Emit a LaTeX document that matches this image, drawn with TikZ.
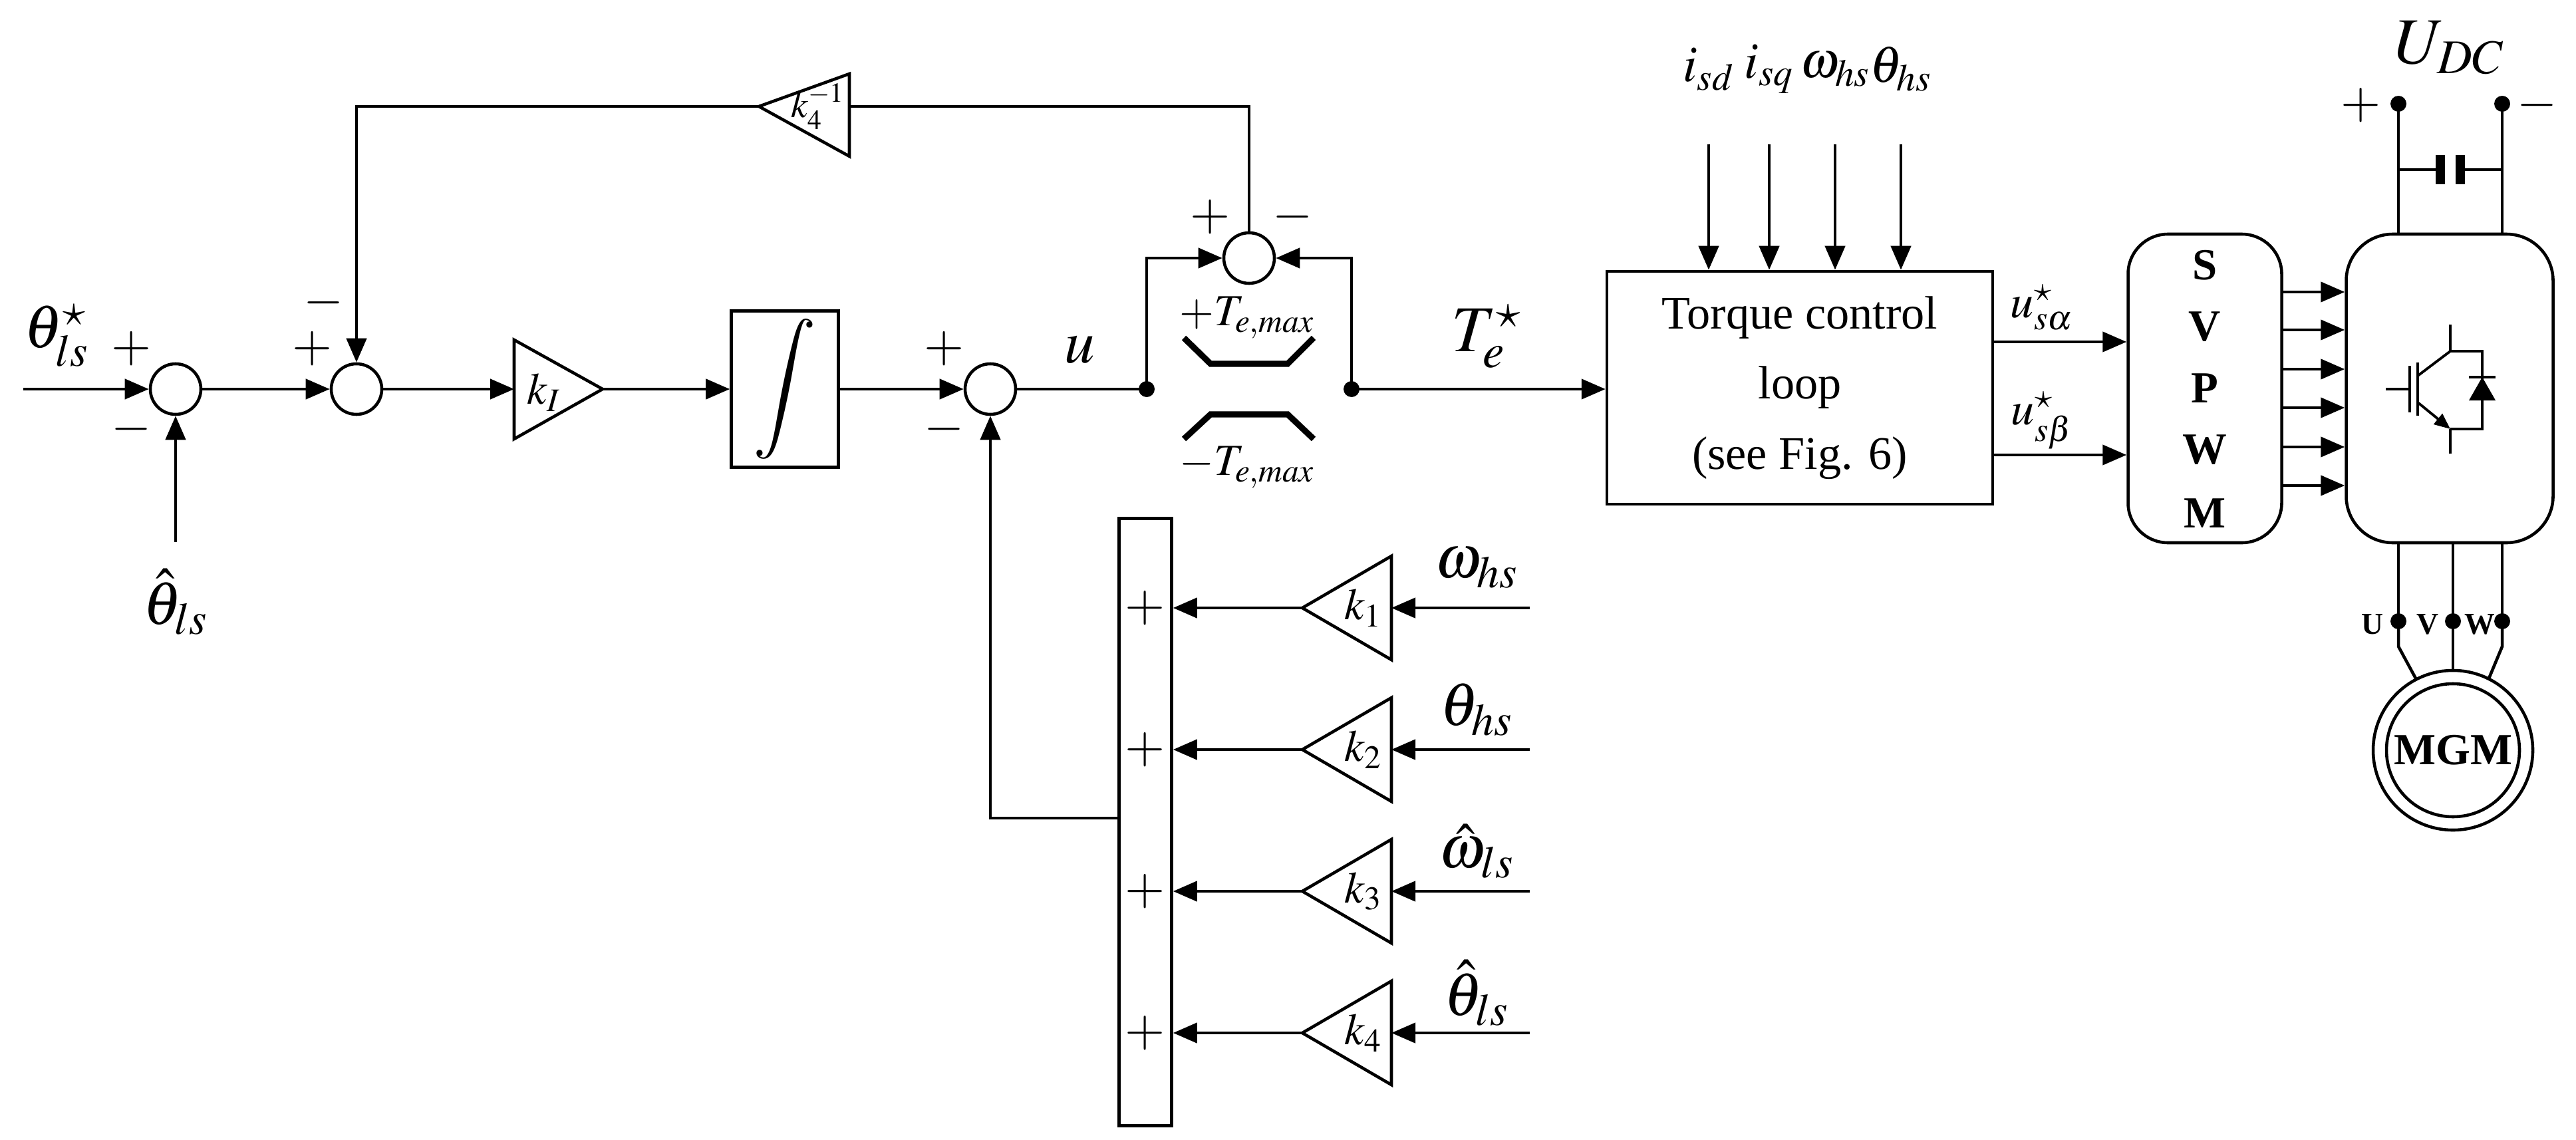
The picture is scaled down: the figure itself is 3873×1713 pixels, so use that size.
\documentclass[tikz,border=0pt]{standalone}
\usepackage{mathptmx}
\usepackage{fontspec}
\setmainfont{Liberation Serif}
\usetikzlibrary{arrows.meta,calc}
\begin{document}
\begin{tikzpicture}[x=0.1mm,y=-0.1mm,line width=1.3pt,
  arr/.style={-{Triangle[length=3.6mm,width=3mm]}},
  sum/.style={circle,draw,minimum size=7.6mm,inner sep=0pt},
  lbl/.style={font=\fontsize{26}{30}\selectfont,inner sep=0pt},
  sgn/.style={font=\fontsize{22}{26}\selectfont,inner sep=0pt},
  gtxt/.style={font=\fontsize{19}{22}\selectfont,inner sep=0pt},
  dot/.style={circle,fill,inner sep=0pt,minimum size=2.4mm},
  blk/.style={font=\bfseries\fontsize{19}{22}\selectfont,inner sep=0pt}]
\useasboundingbox (0,0) rectangle (3873,1713);
% left part
\coordinate (in) at (35,585);
\node[sum] (s1) at (264,585) {};
\node[sum] (s2) at (536,585) {};
\node[sum] (s3) at (1489,585) {};
\node[lbl] at (85,505) {$\theta_{ls}^{\star}$};
\draw[arr] (in) -- (s1);
\coordinate (th) at (264,815);
\draw[arr] (th) -- (s1);
\node[lbl] (thl) at (264,905) {$\hat{\theta}_{ls}$};
\node[sgn] at (198,524) {$+$};
\node[sgn] at (198,645) {$-$};
\node[sgn] at (470,524) {$+$};
\node[sgn] at (487,455) {$-$};
\node[sgn] at (1420,524) {$+$};
\node[sgn] at (1420,645) {$-$};
\draw[arr] (s1) -- (s2);
% kI
\coordinate (kIl) at (773,585);
\draw (773,511) -- (906,585) -- (773,660) -- cycle;
\node[gtxt] (kI) at (818,590) {$k_I$};
\coordinate (kIr) at (906,585);
\draw[arr] (s2) -- (kIl);
\node[draw,minimum width=16.1mm,minimum height=23.5mm,inner sep=0pt,
  font=\fontsize{30}{34}\selectfont] (int) at (1180,585) {$\displaystyle\int$};
\draw[arr] (kIr) -- (int);
\draw[arr] (int) -- (s3);
\node[lbl] at (1623,526) {$u$};
% saturation
\coordinate (jl) at (1724,585);
\coordinate (jr) at (2032,585);
\node[dot] at (jl) {}; \node[dot] at (jr) {};
\node[sum] (sc) at (1878,388) {};
\draw (s3) -- (jl);
\draw[arr] (jl) |- (sc);
\draw[arr] (jr) |- (sc);
\node[sgn] at (1820,326) {$+$};
\node[sgn] at (1944,326) {$-$};
\draw[line width=2.6pt] (1780,508) -- (1820,547) -- (1936,547) -- (1975,508);
\draw[line width=2.6pt] (1780,660) -- (1820,623) -- (1936,623) -- (1975,660);
\node[gtxt] at (1875,478) {$+T_{e,max}$};
\node[gtxt] at (1875,703) {$-T_{e,max}$};
% feedback k4^-1
\draw (1277,111) -- (1141,160) -- (1277,235) -- cycle;
\node[gtxt,font=\fontsize{16}{18}\selectfont] (k4i) at (1230,160) {$k_4^{-1}$};
\coordinate (k4r) at (1277,160);
\coordinate (k4l) at (1141,160);
\draw (sc) |- (k4r);
\draw[arr] (k4l) -| (s2);
% Te*
\node[draw,align=center,minimum width=58mm,minimum height=35mm,inner sep=0pt,
  font=\fontsize{20}{30}\selectfont] (tc) at (2706,583) {Torque control\\loop\\(see Fig. 6)};
\draw[arr] (jr) -- (tc.west|-jr);
\node[lbl,font=\fontsize{28}{32}\selectfont] at (2235,506) {$T_e^{\star}$};
\foreach \x/\t/\n in {2569/i_{sd}/a,2660/i_{sq}/b,2759/\omega_{hs}/c,2858/\theta_{hs}/d}{
  \coordinate (ti\n) at (\x,217);
  \node[gtxt,font=\fontsize{22}{24}\selectfont] at (\x,104) {$\t$};
  \draw[arr] (ti\n) -- (tc.north-|ti\n);
}
% SVPWM
\node[draw,rounded corners=6mm,minimum width=23.1mm,minimum height=46.4mm,inner sep=0pt] (sv) at (3315,584) {};
\foreach \y/\c in {399/S,491/V,584/P,676/W,772/M}{\node[blk] at (3315,\y) {\c};}
\draw[arr] (tc.east|-0,514) -- (sv.west|-0,514);
\draw[arr] (tc.east|-0,684) -- (sv.west|-0,684);
\node[gtxt,font=\fontsize{20}{22}\selectfont] at (3070,462) {$u_{s\alpha}^{\star}$};
\node[gtxt,font=\fontsize{20}{22}\selectfont] at (3070,632) {$u_{s\beta}^{\star}$};
% inverter
\node[draw,rounded corners=7mm,minimum width=31.1mm,minimum height=46.4mm,inner sep=0pt] (inv) at (3683,584) {};
\foreach \y in {439,496,555,613,672,730}{\draw[arr] (sv.east|-0,\y) -- (inv.west|-0,\y);}
% IGBT
\begin{scope}[line width=1.1pt]
\draw (3587,585) -- (3623,585);
\draw (3623,550) -- (3623,620);
\draw (3635,545) -- (3635,625);
\draw (3635,565) -- (3684,528) -- (3732,528) -- (3732,645) -- (3684,645);
\draw (3684,488) -- (3684,528);
\draw (3684,645) -- (3684,682);
\draw[-{Triangle[length=2.4mm,width=2mm]}] (3635,605) -- (3684,645);
\fill (3712,602) -- (3752,602) -- (3732,567) -- cycle;
\draw (3712,567) -- (3752,567);
\end{scope}
% DC link
\coordinate (dp) at (3606,156);
\coordinate (dm) at (3762,156);
\node[dot] at (dp) {}; \node[dot] at (dm) {};
\draw (dp) -- (dp|-inv.north);
\draw (dm) -- (dm|-inv.north);
\draw (3606,255) -- (3662,255);
\draw (3706,255) -- (3762,255);
\fill (3662,233) rectangle (3676,277);
\fill (3692,233) rectangle (3706,277);
\node[sgn] at (3549,158) {$+$};
\node[sgn] at (3814,158) {$-$};
\node[lbl,font=\fontsize{28}{30}\selectfont] at (3683,72) {$U_{DC}$};
% motor
\node[circle,draw,minimum size=24mm,inner sep=0pt] (mo) at (3688,1128) {};
\node[circle,draw,minimum size=20mm,inner sep=0pt,blk] (mi) at (3688,1128) {MGM};
\coordinate (pu) at (3606,934); \coordinate (pv) at (3688,934); \coordinate (pw) at (3762,934);
\foreach \p in {pu,pv,pw}{\node[dot] at (\p) {}; \draw (\p|-inv.south) -- (\p);}
\draw (pu) -- (3606,972) -- (3632,1020);
\draw (pv) -- (3688,1008);
\draw (pw) -- (3762,972) -- (3742,1020);
\node[blk,font=\bfseries\fontsize{13}{15}\selectfont] at (3567,939) {U};
\node[blk,font=\bfseries\fontsize{13}{15}\selectfont] at (3650,939) {V};
\node[blk,font=\bfseries\fontsize{13}{15}\selectfont] at (3728,939) {W};
% summing bar and gains
\node[draw,minimum width=7.9mm,minimum height=91.3mm,inner sep=0pt] (bar) at (1722,1236) {};
\foreach \y/\k/\t/\n in {914/k_1/\omega_{hs}/1,1127/k_2/\theta_{hs}/2,1340/k_3/\hat{\omega}_{ls}/3,1553/k_4/\hat{\theta}_{ls}/4}{
  \draw (2092,\y-78) -- (1958,\y) -- (2092,\y+78) -- cycle;
  \coordinate (gt\n) at (1958,\y);
  \coordinate (gr\n) at (2092,\y);
  \coordinate (gi\n) at (2300,\y);
  \node[gtxt] at (2050,\y) {$\k$};
  \node[sgn] at (1722,\y) {$+$};
  \draw[arr] (gt\n) -- (bar.east|-gt\n);
  \draw[arr] (gi\n) -- (gr\n);
  \node[lbl] at (2220,\y-60) {$\t$};
}
\coordinate (fb) at (1683,1230);
\draw[arr] (fb) -| (s3);
\end{tikzpicture}
\end{document}
